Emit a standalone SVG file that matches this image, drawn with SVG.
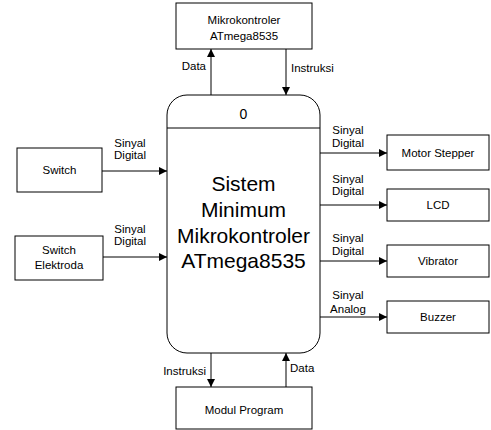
<svg xmlns="http://www.w3.org/2000/svg" width="491" height="430" viewBox="0 0 491 430">
<style>
.box{fill:#fff;stroke:#000;stroke-width:1}
.ln{stroke:#000;stroke-width:1;fill:none}
text{font-family:"Liberation Sans",Arial,sans-serif;font-size:11.5px;fill:#000}
.c{text-anchor:middle}
.e{text-anchor:end}
.big{font-size:21px}
</style>
<defs>
<marker id="ah" viewBox="0 0 10 10" refX="10" refY="5" markerWidth="8" markerHeight="8" markerUnits="userSpaceOnUse" orient="auto">
<path d="M0,0 L10,5 L0,10 Z" fill="#000"/>
</marker>
</defs>
<rect width="491" height="430" fill="#fff"/>
<g id="connectors">
<line class="ln" x1="211" y1="95" x2="211" y2="49" marker-end="url(#ah)"/>
<line class="ln" x1="286" y1="49" x2="286" y2="95" marker-end="url(#ah)"/>
<line class="ln" x1="102" y1="171" x2="167" y2="171" marker-end="url(#ah)"/>
<line class="ln" x1="103" y1="257" x2="167" y2="257" marker-end="url(#ah)"/>
<line class="ln" x1="320" y1="153" x2="387" y2="153" marker-end="url(#ah)"/>
<line class="ln" x1="320" y1="205" x2="387" y2="205" marker-end="url(#ah)"/>
<line class="ln" x1="320" y1="261" x2="387" y2="261" marker-end="url(#ah)"/>
<line class="ln" x1="320" y1="317" x2="387" y2="317" marker-end="url(#ah)"/>
<line class="ln" x1="211" y1="353" x2="211" y2="387" marker-end="url(#ah)"/>
<line class="ln" x1="286" y1="387" x2="286" y2="353" marker-end="url(#ah)"/>
<text class="e" x="206" y="70">Data</text>
<text x="291" y="72">Instruksi</text>
<text class="c" x="130" y="147">Sinyal</text>
<text class="c" x="130" y="159">Digital</text>
<text class="c" x="130" y="233">Sinyal</text>
<text class="c" x="130" y="245">Digital</text>
<text class="c" x="348" y="134">Sinyal</text>
<text class="c" x="348" y="147">Digital</text>
<text class="c" x="348" y="183">Sinyal</text>
<text class="c" x="348" y="195">Digital</text>
<text class="c" x="348" y="242">Sinyal</text>
<text class="c" x="348" y="255">Digital</text>
<text class="c" x="348" y="299">Sinyal</text>
<text class="c" x="348" y="313">Analog</text>
<text class="e" x="206" y="375">Instruksi</text>
<text x="290" y="372">Data</text>
</g>
<g id="main">
<rect class="box" x="167" y="95" width="153" height="258" rx="20" ry="20"/>
<line class="ln" x1="167" y1="128" x2="320" y2="128"/>
<text class="c" x="243.5" y="119" style="font-size:14px">0</text>
<text class="c big" x="243.5" y="191">Sistem</text>
<text class="c big" x="243.5" y="217">Minimum</text>
<text class="c big" x="243.5" y="243">Mikrokontroler</text>
<text class="c big" x="243.5" y="268">ATmega8535</text>
</g>
<g id="mcu">
<rect class="box" x="176" y="3" width="136" height="46"/>
<text class="c" x="244" y="24">Mikrokontroler</text>
<text class="c" x="244" y="40">ATmega8535</text>
</g>
<g id="switch">
<rect class="box" x="17" y="148" width="85" height="44"/>
<text class="c" x="59.5" y="174">Switch</text>
</g>
<g id="switch-elektroda">
<rect class="box" x="15" y="236" width="88" height="44"/>
<text class="c" x="59" y="254">Switch</text>
<text class="c" x="59" y="269">Elektroda</text>
</g>
<g id="motor">
<rect class="box" x="387" y="135" width="102" height="35"/>
<text class="c" x="438" y="157">Motor Stepper</text>
</g>
<g id="lcd">
<rect class="box" x="387" y="189" width="102" height="32"/>
<text class="c" x="438" y="209">LCD</text>
</g>
<g id="vibrator">
<rect class="box" x="387" y="245" width="102" height="32"/>
<text class="c" x="438" y="265">Vibrator</text>
</g>
<g id="buzzer">
<rect class="box" x="387" y="301" width="102" height="32"/>
<text class="c" x="438" y="321">Buzzer</text>
</g>
<g id="modul">
<rect class="box" x="176" y="387" width="136" height="42"/>
<text class="c" x="244" y="414">Modul Program</text>
</g>
</svg>
